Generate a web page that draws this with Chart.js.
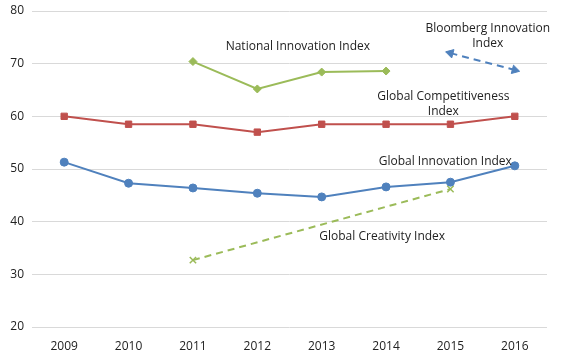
<!DOCTYPE html>
<html>
<head>
<meta charset="utf-8">
<script src="https://cdn.jsdelivr.net/npm/chart.js@4"></script>
<style>
  html, body { margin: 0; padding: 0; background: #fff; }
  #wrap { width: 561px; height: 353px; }
</style>
</head>
<body>
<div id="wrap"><canvas id="myChart" width="561" height="353"></canvas></div>
<script>
// Dữ liệu
const years = ["2009", "2010", "2011", "2012", "2013", "2014", "2015", "2016"];
const competitiveness = [60, 58.5, 58.5, 57, 58.5, 58.5, 58.5, 60];
const innovation = [51.3, 47.3, 46.4, 45.4, 44.7, 46.6, 47.5, 50.6];
const national = [null, null, 70.4, 65.2, 68.4, 68.6, null, null];
const bloomberg = [null, null, null, null, null, null, 72.0, 68.8];
const creativity = [null, null, 32.7, null, null, null, 46.2, null];
const yTicks = [20, 30, 40, 50, 60, 70, 80];

// Nhãn chú thích: [dòng chữ, vị trí x (chỉ số danh mục), giá trị y]
const labels = [
    { lines: ["National Innovation Index"], x: 3.63, y: 73.3 },
    { lines: ["Bloomberg Innovation", "Index"], x: 6.58, y: 76.6 },
    { lines: ["Global Competitiveness", "Index"], x: 5.89, y: 63.7 },
    { lines: ["Global Innovation Index"], x: 5.92, y: 51.5 },
    { lines: ["Global Creativity Index"], x: 4.94, y: 37.1 }
];

const RED = "#C0504D", BLUE = "#4F81BD", GREEN = "#9BBB59";
const FONT = "'Open Sans', sans-serif";

const labelPlugin = {
    id: "seriesLabels",
    afterDatasetsDraw(chart) {
        const { ctx, scales: { x, y } } = chart;
        ctx.save();
        ctx.font = "12px " + FONT;
        ctx.fillStyle = "#222";
        ctx.textAlign = "center";
        ctx.textBaseline = "middle";
        labels.forEach(l => {
            const px = x.getPixelForValue(l.x);
            const py = y.getPixelForValue(l.y);
            l.lines.forEach((t, i) => ctx.fillText(t, px, py + i * 15));
        });
        ctx.restore();
    }
};

new Chart(document.getElementById("myChart"), {
    type: "line",
    data: {
        labels: years,
        datasets: [
            { data: competitiveness, borderColor: RED, backgroundColor: RED, pointStyle: "rect", pointRadius: 4.5 },
            { data: innovation, borderColor: BLUE, backgroundColor: BLUE, pointStyle: "circle", pointRadius: 4 },
            { data: national, borderColor: GREEN, backgroundColor: GREEN, pointStyle: "rectRot", pointRadius: 4 },
            { data: bloomberg, borderColor: BLUE, backgroundColor: BLUE, pointStyle: "triangle", pointRadius: 5,
              borderDash: [7, 5], pointRotation: [0, 0, 0, 0, 0, 0, 285, 105] },
            { data: creativity, borderColor: GREEN, backgroundColor: GREEN, pointStyle: "crossRot", pointRadius: 4.5,
              pointBorderWidth: 1.5, borderDash: [7, 5], spanGaps: true }
        ]
    },
    options: {
        responsive: false,
        animation: false,
        layout: { padding: { left: 0, right: 14, top: 11, bottom: 0 } },
        elements: { line: { borderWidth: 2, tension: 0 }, point: { borderWidth: 1 } },
        plugins: { legend: { display: false }, tooltip: { enabled: false } },
        scales: {
            x: {
                offset: true,
                grid: { display: false, offset: true },
                border: { display: false },
                ticks: { color: "#222", font: { family: FONT, size: 12 }, padding: 4 },
                afterFit: s => { s.height = 26; }
            },
            y: {
                min: 20, max: 80,
                afterBuildTicks: s => { s.ticks = yTicks.map(v => ({ value: v })); },
                grid: { color: "#d9d9d9", drawTicks: false },
                border: { display: false },
                ticks: { color: "#222", font: { family: FONT, size: 12 }, padding: 8 },
                afterFit: s => { s.width = 32; s.paddingTop = 0; s.paddingBottom = 0; }
            }
        }
    },
    plugins: [labelPlugin]
});
</script>
</body>
</html>
